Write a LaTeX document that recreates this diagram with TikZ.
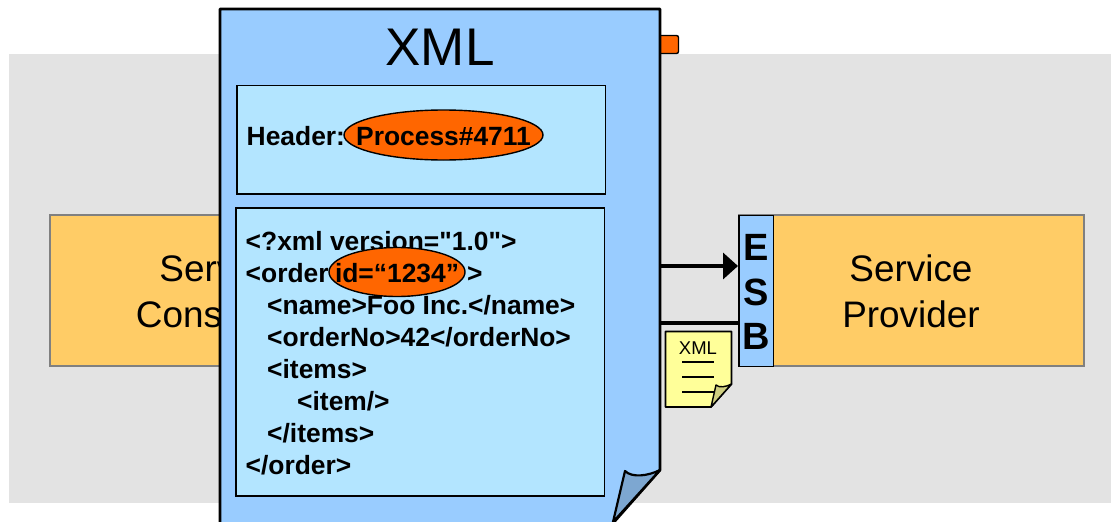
\documentclass[tikz,border=0pt]{standalone}
\usepackage{fontspec}
\setmainfont{Liberation Sans}
\newfontfamily\lsans{Liberation Sans}
\definecolor{bggray}{HTML}{E3E3E3}
\definecolor{svc}{HTML}{FFCC66}
\definecolor{docblue}{HTML}{99CCFF}
\definecolor{paneblue}{HTML}{B3E5FF}
\definecolor{hot}{HTML}{FF6600}
\definecolor{foldblue}{HTML}{7DA7D1}
\definecolor{note}{HTML}{FFFF99}
\definecolor{notefold}{HTML}{CFCF80}
\definecolor{edgegray}{HTML}{808080}
\tikzset{
  svcbox/.style={draw=edgegray,line width=2pt,fill=svc,rectangle,minimum width=345pt,minimum height=151pt,inner sep=0pt},
  pane/.style={draw=black,line width=1.8pt,fill=paneblue},
  hotell/.style={draw=black,line width=1.4pt,fill=hot,ellipse,inner sep=0pt},
  code/.style={font=\lsans\bfseries\fontsize{26.4}{30}\selectfont,anchor=base west,inner sep=0pt},
  svctxt/.style={font=\fontsize{36.9}{45.5}\selectfont,align=center,inner sep=0pt},
  wire/.style={draw=black,line width=3.6pt},
  esbletter/.style={font=\bfseries\fontsize{38}{45}\selectfont,inner sep=0pt},
}
\usetikzlibrary{shapes.geometric,arrows.meta}
\begin{document}
\begin{tikzpicture}[x=1pt,y=-1pt]
\useasboundingbox (0,0) rectangle (1111,522);
\clip (0,0) rectangle (1111,522);
\fill[bggray] (9,54) rectangle (1111,503);
% services
\node[svcbox,anchor=north west] (consumer) at (49,214) {};
\node[svctxt] (consumertxt) at (221,291.5) {Service\\Consumer};
\node[svcbox,anchor=north west] (provider) at (738,214) {};
\node[svctxt] (providertxt) at (911,291.5) {Service\\Provider};
% tab behind the document
\node[draw=black,line width=1.4pt,fill=hot,rounded corners=2pt,minimum width=29pt,minimum height=18pt,inner sep=0pt] (tab) at (664,44.5) {};
% ESB
\node[draw=black,line width=1.8pt,fill=docblue,minimum width=34.5pt,minimum height=151pt,inner sep=0pt,anchor=north west] (esb) at (738,214.5) {};
\node[esbletter] (esbE) at (756.5,247) {E};
\node[esbletter] (esbS) at (756.5,292) {S};
\node[esbletter] (esbB) at (756.5,336) {B};
% wires
\coordinate (w1) at (660,266);
\coordinate (w2) at (660,323);
\draw[wire,-{Triangle[length=15pt,width=26pt]}] (w1) -- (w1 -| esb.west);
\draw[wire] (w2) -- (w2 -| esb.west);
% note
\draw[fill=note,draw=black,line width=1.8pt,line join=round] (665.5,331.5) -- (731.5,331.5) -- (731.5,384) -- (711,407) -- (665.5,407) -- cycle;
\node[font=\fontsize{18.5}{20}\selectfont,inner sep=0pt] (notetxt) at (698,348) {XML};
\draw[draw=black,line width=2pt] (682,361.7) -- (714,361.7) (682,376.7) -- (714,376.7) (682,392.3) -- (716,392.3);
\draw[fill=notefold,draw=black,line width=1.4pt,line join=round] (711,407) -- (716,385) .. controls (719,388) and (726,387) .. (731.5,384) -- cycle;
% document
\draw[fill=docblue,draw=black,line width=2.8pt,line join=round] (220,9) -- (660,9) -- (660,470) -- (606,531) -- (220,531) -- cycle;
\draw[fill=foldblue,draw=black,line width=2.2pt,line join=round] (613,522) -- (625,471) .. controls (632,478) and (648,476) .. (660,470) -- cycle;
\node[font=\fontsize{53}{60}\selectfont,inner sep=0pt] (xmltitle) at (440,47) {XML};
% panes
\draw[pane] (237,85.5) rectangle (605.5,194) ;
\draw[pane] (236,208) rectangle (604.5,496);
% header
\node[code] (hdr) at (246.5,145) {Header:};
\node[hotell,minimum width=199pt,minimum height=50pt] (hdrell) at (443.5,135) {};
\node[code,anchor=base] (hdrval) at (443.5,145) {Process\#4711};
% code
\node[code] (l1) at (245.5,250) {<?xml version="1.0">};
\node[hotell,minimum width=136pt,minimum height=49pt] (idell) at (397,272) {};
\node[code] (l2) at (245.5,282) {<order};
\node[code,anchor=base] (l2b) at (397,282) {id=“1234”};
\node[code] (l2c) at (467,282) {>};
\node[code] (l3) at (267,314) {<name>Foo Inc.</name>};
\node[code] (l4) at (267,346) {<orderNo>42</orderNo>};
\node[code] (l5) at (267,378) {<items>};
\node[code] (l6) at (297,410) {<item/>};
\node[code] (l7) at (267,442) {</items>};
\node[code] (l8) at (245.5,474) {</order>};
\end{tikzpicture}
\end{document}
